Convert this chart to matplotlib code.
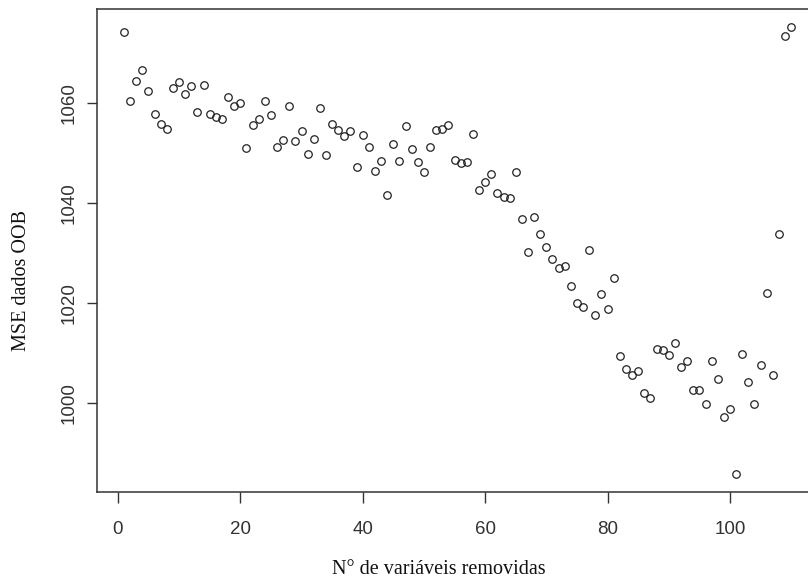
import matplotlib
matplotlib.use("Agg")
import matplotlib.pyplot as plt

# Data
n_removed = list(range(1, 111))
mse_oob = [
    1074.1, 1060.4, 1064.3, 1066.5, 1062.3, 1057.7, 1055.7, 1054.7, 1063.0, 1064.1,
    1061.8, 1063.3, 1058.1, 1063.5, 1057.7, 1057.1, 1056.7, 1061.1, 1059.3, 1059.9,
    1050.9, 1055.5, 1056.8, 1060.3, 1057.5, 1051.1, 1052.5, 1059.4, 1052.3, 1054.3,
    1049.7, 1052.8, 1058.9, 1049.6, 1055.7, 1054.6, 1053.3, 1054.3, 1047.2, 1053.5,
    1051.1, 1046.4, 1048.4, 1041.5, 1051.8, 1048.4, 1055.3, 1050.8, 1048.1, 1046.2,
    1051.1, 1054.5, 1054.7, 1055.5, 1048.6, 1047.9, 1048.1, 1053.8, 1042.5, 1044.2,
    1045.8, 1042.0, 1041.2, 1041.0, 1046.2, 1036.7, 1030.1, 1037.1, 1033.7, 1031.1,
    1028.8, 1026.9, 1027.3, 1023.3, 1019.9, 1019.1, 1030.5, 1017.6, 1021.7, 1018.7,
    1024.9, 1009.4, 1006.8, 1005.5, 1006.3, 1001.9, 1000.9, 1010.7, 1010.5, 1009.5,
    1012.0, 1007.2, 1008.3, 1002.6, 1002.6, 999.7, 1008.3, 1004.8, 997.2, 998.7,
    985.7, 1009.7, 1004.1, 999.7, 1007.5, 1022.0, 1005.5, 1033.7, 1073.4, 1075.2,
]
x_ticks = [0, 20, 40, 60, 80, 100]
y_ticks = [1000, 1020, 1040, 1060]
x_label = "N° de variáveis removidas"
y_label = "MSE dados OOB"

W, H = 808, 580
fig = plt.figure(figsize=(W / 100, H / 100), dpi=100)
fig.patch.set_facecolor("white")

# R-style axes (extends past right edge, like the cropped reference)
left_px, right_px, top_px, bottom_px = 97.3, 817.9, 9.0, 492.0
ax = fig.add_axes([left_px / W, (H - bottom_px) / H,
                   (right_px - left_px) / W, (bottom_px - top_px) / H])

ax.plot(n_removed, mse_oob, linestyle="none", marker="o", markersize=5.4,
        markerfacecolor="none", markeredgecolor="#222222", markeredgewidth=0.9)

# R's default 4% padding
xr = max(n_removed) - min(n_removed)
yr = max(mse_oob) - min(mse_oob)
ax.set_xlim(min(n_removed) - 0.04 * xr, max(n_removed) + 0.04 * xr)
ax.set_ylim(min(mse_oob) - 0.04 * yr, max(mse_oob) + 0.04 * yr)

ax.set_xticks(x_ticks)
ax.set_yticks(y_ticks)
ax.set_xticklabels([str(t) for t in x_ticks])
ax.set_yticklabels([str(t) for t in y_ticks])

tick_font = "Liberation Sans"
for lab in ax.get_xticklabels():
    lab.set_fontfamily(tick_font)
    lab.set_fontsize(13.5)
    lab.set_color("#333333")
for lab in ax.get_yticklabels():
    lab.set_fontfamily(tick_font)
    lab.set_fontsize(13.5)
    lab.set_color("#333333")
    lab.set_rotation(90)
    lab.set_va("center")

ax.tick_params(axis="x", direction="out", length=8, width=1.0, color="#333333", pad=13)
ax.tick_params(axis="y", direction="out", length=7.5, width=1.0, color="#333333", pad=7)

for s in ax.spines.values():
    s.set_linewidth(1.1)
    s.set_color("#333333")

# Axis titles (serif, as in the reference)
fig.text(439 / W, 1 - 569 / H, x_label, ha="center", va="center",
         fontfamily="Liberation Serif", fontsize=14.5, color="#111111")
fig.text(21.7 / W, 1 - 280 / H, y_label, ha="center", va="center", rotation=90,
         fontfamily="Liberation Serif", fontsize=14.5, color="#111111")

fig.savefig("out.png", dpi=100)
